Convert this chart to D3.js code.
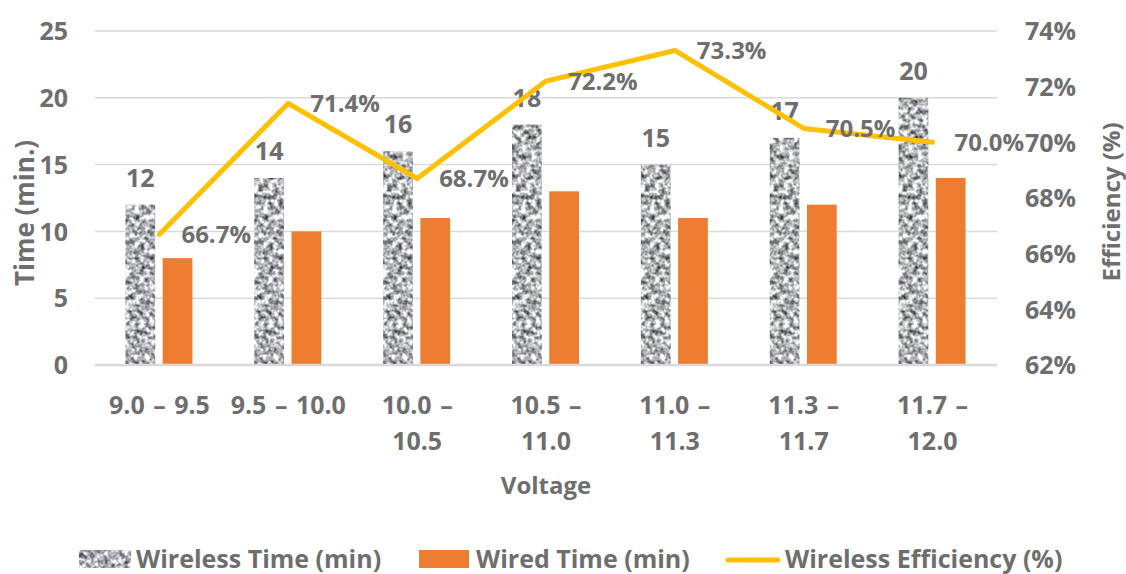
<!DOCTYPE html>
<html>
<head>
<meta charset="utf-8">
<script src="https://cdn.jsdelivr.net/npm/d3@7/dist/d3.min.js"></script>
<style>
  html, body { margin: 0; padding: 0; background: #ffffff; }
  svg { display: block; }
  text { font-family: "Open Sans", "Liberation Sans", sans-serif; fill: #6e6e6e; }
</style>
</head>
<body>
<svg id="chart" width="1126" height="574"></svg>
<script>
// Voltage bands and measurements
const categories = ["9.0 – 9.5", "9.5 – 10.0", "10.0 – 10.5", "10.5 – 11.0", "11.0 – 11.3", "11.3 – 11.7", "11.7 – 12.0"];
const categoryLines = [["9.0 – 9.5"], ["9.5 – 10.0"], ["10.0 –", "10.5"], ["10.5 –", "11.0"], ["11.0 –", "11.3"], ["11.3 –", "11.7"], ["11.7 –", "12.0"]];
const wirelessTime = [12, 14, 16, 18, 15, 17, 20];
const wiredTime = [8, 10, 11, 13, 11, 12, 14];
const wirelessEfficiency = [66.7, 71.4, 68.7, 72.2, 73.3, 70.5, 70.0];
const timeTicks = [0, 5, 10, 15, 20, 25];
const efficiencyTicks = [62, 64, 66, 68, 70, 72, 74];

const svg = d3.select("#chart");
const plot = { left: 95, right: 997, top: 31, bottom: 365 };

const x = d3.scaleBand().domain(categories).range([plot.left, plot.right]).padding(0);
const yTime = d3.scaleLinear().domain([0, 25]).range([plot.bottom, plot.top]);
const yEff = d3.scaleLinear().domain([62, 74]).range([plot.bottom, plot.top]);
const sub = d3.scaleBand().domain(["wireless", "wired"])
  .range([x.bandwidth() / 2 - 34, x.bandwidth() / 2 + 33]).paddingInner(0.2);

// Grainy grey texture for the wireless bars
const defs = svg.append("defs");
const grain = defs.append("filter").attr("id", "grain")
  .attr("x", 0).attr("y", 0).attr("width", 1).attr("height", 1)
  .attr("color-interpolation-filters", "sRGB");
grain.append("feTurbulence").attr("type", "fractalNoise")
  .attr("baseFrequency", 0.2).attr("numOctaves", 2).attr("seed", 7).attr("result", "noise");
grain.append("feColorMatrix").attr("in", "noise").attr("type", "matrix")
  .attr("values", "1.5 0 0 0 -0.05  1.5 0 0 0 -0.045  1.5 0 0 0 -0.03  0 0 0 0 1")
  .attr("result", "grey");
grain.append("feComposite").attr("in", "grey").attr("in2", "SourceGraphic").attr("operator", "in");

// Horizontal gridlines
svg.append("g")
  .selectAll("line").data(timeTicks.filter(d => d > 0)).join("line")
  .attr("x1", plot.left).attr("x2", plot.right)
  .attr("y1", d => yTime(d)).attr("y2", d => yTime(d))
  .attr("stroke", "#d9d9d9").attr("stroke-width", 1.5);

// Left axis labels
const leftAxis = svg.append("g").attr("transform", `translate(${plot.left},0)`)
  .call(d3.axisLeft(yTime).tickValues(timeTicks).tickSize(0).tickPadding(27));
leftAxis.select(".domain").remove();
leftAxis.selectAll("text").style("font-size", "25px").style("font-weight", 700)
  .attr("fill", "#6e6e6e").attr("dy", "0.35em");

// Right axis labels
const rightAxis = svg.append("g").attr("transform", `translate(${plot.right},0)`)
  .call(d3.axisRight(yEff).tickValues(efficiencyTicks).tickFormat(d => d + "%").tickSize(0).tickPadding(28));
rightAxis.select(".domain").remove();
rightAxis.selectAll("text").style("font-size", "25px").style("font-weight", 700)
  .attr("fill", "#6e6e6e").attr("dy", "0.35em");

// Bars
const groups = svg.append("g").selectAll("g").data(categories).join("g")
  .attr("transform", d => `translate(${x(d)},0)`);

groups.append("rect")
  .attr("x", sub("wireless")).attr("width", sub.bandwidth())
  .attr("y", (d, i) => yTime(wirelessTime[i]))
  .attr("height", (d, i) => yTime(0) - yTime(wirelessTime[i]))
  .attr("fill", "#999").attr("filter", "url(#grain)");

groups.append("rect")
  .attr("x", sub("wired")).attr("width", sub.bandwidth())
  .attr("y", (d, i) => yTime(wiredTime[i]))
  .attr("height", (d, i) => yTime(0) - yTime(wiredTime[i]))
  .attr("fill", "#ed7d31");

// Wireless time value labels
groups.append("text")
  .attr("x", sub("wireless") + sub.bandwidth() / 2)
  .attr("y", (d, i) => yTime(wirelessTime[i]) - 18)
  .attr("text-anchor", "middle")
  .style("font-size", "25px").style("font-weight", 700)
  .text((d, i) => wirelessTime[i]);

// Baseline
svg.append("line")
  .attr("x1", plot.left).attr("x2", plot.right)
  .attr("y1", yTime(0)).attr("y2", yTime(0))
  .attr("stroke", "#d9d9d9").attr("stroke-width", 2.5);

// Efficiency line
const cx = (d, i) => x(categories[i]) + x.bandwidth() / 2;
svg.append("path")
  .datum(wirelessEfficiency)
  .attr("fill", "none").attr("stroke", "#ffc000").attr("stroke-width", 5)
  .attr("stroke-linejoin", "round").attr("stroke-linecap", "round")
  .attr("d", d3.line().x((d, i) => cx(d, i)).y(d => yEff(d)));

svg.append("g").selectAll("text").data(wirelessEfficiency).join("text")
  .attr("x", (d, i) => cx(d, i) + 22)
  .attr("y", d => yEff(d))
  .attr("dy", "0.35em")
  .style("font-size", "24px").style("font-weight", 700)
  .text(d => d.toFixed(1) + "%");

// Category labels (wrapped)
const catLabels = svg.append("g").selectAll("text").data(categories).join("text")
  .attr("x", d => x(d) + x.bandwidth() / 2)
  .attr("y", 414)
  .attr("text-anchor", "middle")
  .style("font-size", "25px").style("font-weight", 700)
  .style("word-spacing", "2px");
catLabels.selectAll("tspan").data((d, i) => categoryLines[i]).join("tspan")
  .attr("x", function () { return d3.select(this.parentNode).attr("x"); })
  .attr("dy", (d, j) => j === 0 ? 0 : 36)
  .text(d => d);

// Axis titles
svg.append("text")
  .attr("x", (plot.left + plot.right) / 2).attr("y", 494)
  .attr("text-anchor", "middle")
  .style("font-size", "24px").style("font-weight", 700)
  .text("Voltage");

svg.append("text")
  .attr("transform", `translate(34,${(plot.top + plot.bottom) / 2 + 15}) rotate(-90)`)
  .attr("text-anchor", "middle")
  .style("font-size", "26px").style("font-weight", 700)
  .text("Time (min.)");

svg.append("text")
  .attr("transform", `translate(1120,${(plot.top + plot.bottom) / 2 + 4}) rotate(-90)`)
  .attr("text-anchor", "middle")
  .style("font-size", "24px").style("font-weight", 700)
  .text("Efficiency (%)");

// Legend
const legendItems = [
  { label: "Wireless Time (min)", kind: "grain", x: 79 },
  { label: "Wired Time (min)", kind: "bar", x: 419 },
  { label: "Wireless Efficiency (%)", kind: "line", x: 726 }
];
const legend = svg.append("g");
legendItems.forEach(item => {
  const g = legend.append("g").attr("transform", `translate(${item.x},559)`);
  if (item.kind === "grain") {
    g.append("rect").attr("x", 0).attr("y", -9).attr("width", 52).attr("height", 18)
      .attr("fill", "#999").attr("filter", "url(#grain)");
  } else if (item.kind === "bar") {
    g.append("rect").attr("x", 0).attr("y", -9).attr("width", 50).attr("height", 18)
      .attr("fill", "#ed7d31");
  } else {
    g.append("line").attr("x1", 2).attr("x2", 52).attr("y1", 1).attr("y2", 1)
      .attr("stroke", "#ffc000").attr("stroke-width", 5).attr("stroke-linecap", "round");
  }
  g.append("text").attr("x", item.kind === "line" ? 59 : 57)
    .attr("y", 0).attr("dy", "0.35em")
    .style("font-size", "25px").style("font-weight", 700)
    .text(item.label);
});
</script>
</body>
</html>
